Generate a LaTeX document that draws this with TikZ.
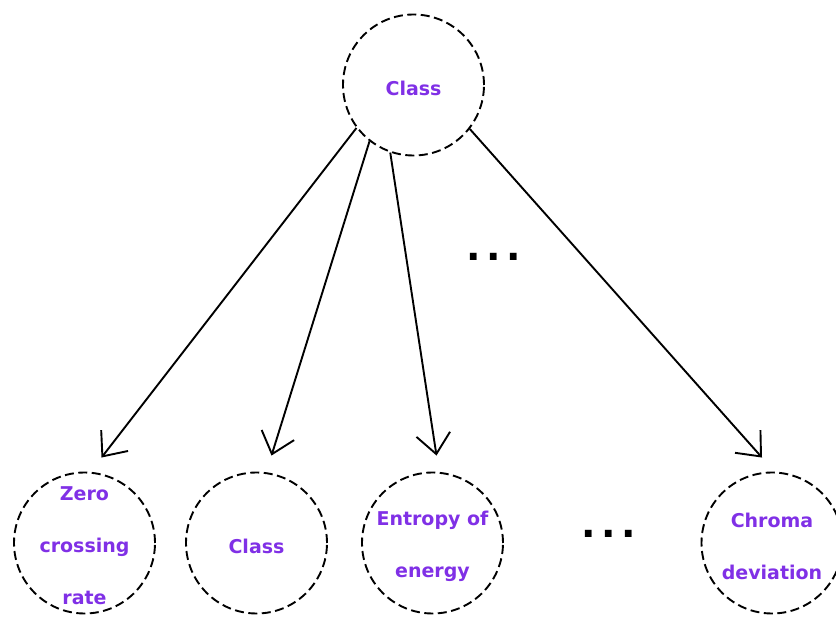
\documentclass[tikz,border=0pt]{standalone}
\usepackage{fontspec}
\setmainfont{DejaVu Sans}
\usetikzlibrary{arrows.meta}
\definecolor{lbl}{HTML}{8030E6}
\begin{document}
\begin{tikzpicture}[x=1pt,y=1pt,
  circ/.style={circle,draw=black,line width=1.9pt,dash pattern=on 9pt off 4.5pt,
    minimum size=141pt,inner sep=0pt},
  txt/.style={text=lbl,align=center,inner sep=0pt,yshift=-3pt,
    font=\fontsize{19}{52}\selectfont\bfseries},
  conn/.style={line width=1.9pt,-{Straight Barb[length=20pt,width=34pt,line width=1.9pt]}},
  dots/.style={font=\fontsize{38}{38}\selectfont\bfseries,inner sep=0pt}]
\useasboundingbox (0,0) rectangle (836,-617);
\clip (0,0) rectangle (836,-617);
\node[circ] (top) at (413.5,-85) {};
\node[circ] (zcr) at (84.5,-543) {};
\node[circ] (cls) at (256.5,-543) {};
\node[circ] (ent) at (432.5,-543) {};
\node[circ] (chr) at (772,-543) {};
\node[txt] (ttop) at (top) {Class};
\node[txt] (tzcr) at (zcr) {Zero\\crossing\\rate};
\node[txt] (tcls) at (cls) {Class};
\node[txt] (tent) at (ent) {Entropy of\\energy};
\node[txt] (tchr) at (chr) {Chroma\\deviation};
\node[dots] (d1) at (493.5,-257) {.\hspace{5.5pt}.\hspace{5.5pt}.};
\node[dots] (d2) at (608.5,-534) {.\hspace{5.5pt}.\hspace{5.5pt}.};
\draw[conn] (top.217.8) -- ([xshift=17pt,yshift=14pt]zcr.north);
\draw[conn] (top.232.8) -- ([xshift=15pt,yshift=16pt]cls.north);
\draw[conn] (top.251.8) -- ([xshift=4pt,yshift=16pt]ent.north);
\draw[conn] (top.322) -- ([xshift=-10pt,yshift=14pt]chr.north);
\end{tikzpicture}
\end{document}
